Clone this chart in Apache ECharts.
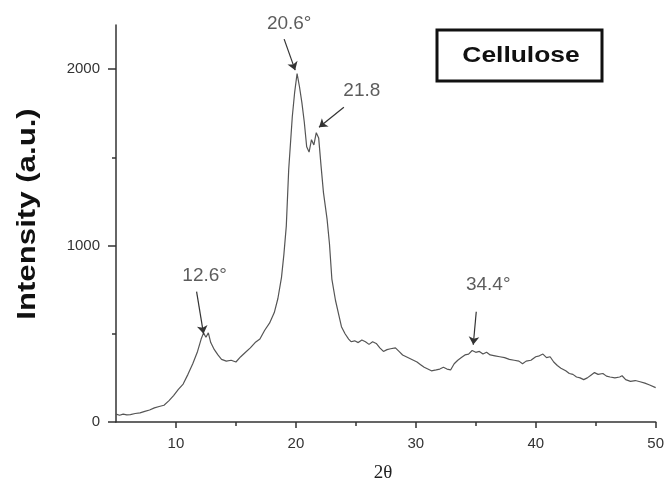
<!DOCTYPE html>
<html>
<head>
<meta charset="utf-8">
<script src="https://cdn.jsdelivr.net/npm/echarts@6/dist/echarts.min.js"></script>
<style>
  html, body { margin: 0; padding: 0; background: #fff; }
  #xrd { width: 667px; height: 484px; }
</style>
</head>
<body>
<div id="xrd"></div>
<script>
// XRD pattern
var twoTheta = [5.0, 5.3, 5.6, 5.9, 6.2, 6.6, 7.0, 7.4, 7.8, 8.2, 8.6, 9.0, 9.4, 9.8, 10.2, 10.6, 11.0, 11.4, 11.8, 12.1,
    12.3, 12.5, 12.7, 12.9, 13.2, 13.5, 13.8, 14.2, 14.6, 15.0, 15.4, 15.8, 16.2, 16.6, 17.0, 17.4, 17.8, 18.2, 18.5, 18.8,
    19.0, 19.2, 19.4, 19.7, 19.9, 20.1, 20.3, 20.5, 20.7, 20.9, 21.1, 21.3, 21.5, 21.7, 21.9, 22.1, 22.3, 22.6, 22.8, 23.0,
    23.3, 23.6, 23.8, 24.1, 24.4, 24.6, 24.9, 25.2, 25.5, 25.8, 26.1, 26.4, 26.7, 27.0, 27.3, 27.6, 27.9, 28.3, 28.6, 28.9,
    29.2, 29.5, 29.8, 30.1, 30.4, 30.7, 31.0, 31.3, 31.7, 32.0, 32.3, 32.6, 32.9, 33.2, 33.5, 33.8, 34.1, 34.4, 34.7, 35.0,
    35.3, 35.6, 35.9, 36.2, 36.6, 37.0, 37.4, 37.8, 38.2, 38.6, 38.9, 39.2, 39.6, 40.0, 40.3, 40.6, 40.9, 41.2, 41.5, 41.8,
    42.1, 42.5, 42.8, 43.1, 43.4, 43.7, 44.0, 44.3, 44.6, 44.9, 45.2, 45.6, 45.9, 46.2, 46.6, 47.0, 47.2, 47.5, 47.9, 48.3,
    48.7, 49.1, 49.5, 50.0];
var intensity = [45, 38, 45, 40, 42, 48, 52, 60, 68, 80, 88, 95, 120, 150, 185, 215, 270, 330, 400, 470,
    505, 480, 505, 450, 410, 380, 355, 345, 350, 340, 370, 395, 420, 450, 470, 520, 560, 620, 700, 820,
    950, 1110, 1430, 1730, 1870, 1975, 1900, 1810, 1700, 1560, 1530, 1600, 1570, 1640, 1610, 1450, 1300, 1150, 1010, 810,
    690, 600, 540, 500, 470, 455, 460, 450, 465, 455, 440, 455, 445, 420, 400, 410, 415, 420, 400, 380,
    370, 360, 350, 340, 325, 310, 300, 290, 295, 300, 310, 300, 295, 330, 350, 365, 380, 385, 405, 395,
    400, 385, 395, 380, 375, 370, 365, 355, 350, 345, 330, 345, 350, 370, 375, 385, 365, 370, 340, 320,
    305, 290, 275, 270, 255, 250, 240, 250, 265, 280, 270, 275, 260, 255, 250, 255, 262, 240, 230, 235,
    228, 220, 210, 195];

// peak annotations: label, text position, arrow start, arrow tip (data units)
var peakLabels = ['20.6°', '21.8', '12.6°', '34.4°'];
var labelPos = [[19.44, 2256], [25.5, 1875], [12.39, 830], [36.04, 778]];
var arrowFrom = [[19.02, 2170], [24.0, 1784], [11.72, 739], [35.04, 625]];
var arrowTo = [[19.94, 1994], [21.93, 1670], [12.3, 500], [34.79, 438]];

var xMajor = [10, 20, 30, 40, 50];
var xMinor = [15, 25, 35, 45];
var yMajor = [0, 1000, 2000];
var yMinor = [500, 1500];

var curve = twoTheta.map(function (t, i) { return [t, intensity[i]]; });
var arrows = arrowFrom.map(function (p, i) { return [{ coord: p }, { coord: arrowTo[i] }]; });
var labels = labelPos.map(function (p, i) { return { value: p, name: peakLabels[i] }; });

var axisColor = '#333';
var plain = function (v) { return String(v); };
var myChart = echarts.init(document.getElementById('xrd'));
var option = {
    animation: false,
    grid: { left: 116, right: 9, top: 25, bottom: 62 },
    xAxis: [{
        type: 'value',
        min: 5,
        max: 50,
        interval: 5,
        axisLine: { lineStyle: { color: axisColor, width: 1.5 } },
        axisTick: { customValues: xMajor, length: 6, lineStyle: { color: axisColor, width: 1.5 } },
        axisLabel: { customValues: xMajor, formatter: plain, margin: 14, color: '#333', fontSize: 15, fontFamily: 'Liberation Sans' },
        splitLine: { show: false }
    }, {
        type: 'value',
        min: 5,
        max: 50,
        interval: 5,
        position: 'bottom',
        axisLine: { show: false },
        axisTick: { customValues: xMinor, length: 4, lineStyle: { color: axisColor, width: 1.5 } },
        axisLabel: { show: false },
        splitLine: { show: false }
    }],
    yAxis: [{
        type: 'value',
        min: 0,
        max: 2250,
        interval: 500,
        axisLine: { show: true, lineStyle: { color: axisColor, width: 1.5 } },
        axisTick: { show: true, customValues: yMajor, length: 8, lineStyle: { color: axisColor, width: 1.5 } },
        axisLabel: { customValues: yMajor, formatter: plain, margin: 16, color: '#333', fontSize: 15, fontFamily: 'Liberation Sans' },
        splitLine: { show: false }
    }, {
        type: 'value',
        min: 0,
        max: 2250,
        interval: 500,
        position: 'left',
        axisLine: { show: false },
        axisTick: { show: true, customValues: yMinor, length: 4, lineStyle: { color: axisColor, width: 1.5 } },
        axisLabel: { show: false },
        splitLine: { show: false }
    }],
    series: [{
        name: 'Cellulose',
        type: 'line',
        data: curve,
        showSymbol: false,
        symbol: 'none',
        lineStyle: { color: '#555', width: 1.2 },
        markLine: {
            silent: true,
            animation: false,
            symbol: ['none', 'arrow'],
            symbolSize: 8,
            label: { show: false },
            lineStyle: { color: '#333', width: 1.2, type: 'solid' },
            data: arrows
        }
    }, {
        type: 'scatter',
        data: labels,
        symbolSize: 0,
        clip: false,
        silent: true,
        label: {
            show: true,
            position: 'inside',
            formatter: '{b}',
            color: '#333',
            fontSize: 19,
            fontFamily: 'Liberation Sans'
        }
    }],
    graphic: [{
        type: 'rect',
        shape: { x: 437, y: 30, width: 165, height: 51 },
        style: { fill: '#fff', stroke: '#111', lineWidth: 3 }
    }, {
        type: 'text',
        x: 521,
        y: 56,
        scaleX: 1.2,
        style: {
            text: 'Cellulose',
            font: 'bold 22px "Liberation Sans"',
            fill: '#111',
            align: 'center',
            verticalAlign: 'middle'
        }
    }, {
        type: 'text',
        x: 28,
        y: 214,
        rotation: Math.PI / 2,
        scaleX: 1.2,
        style: {
            text: 'Intensity (a.u.)',
            font: 'bold 26px "Liberation Sans"',
            fill: '#111',
            align: 'center',
            verticalAlign: 'middle'
        }
    }, {
        type: 'text',
        x: 383,
        y: 473,
        style: {
            text: '2θ',
            font: '19px "Liberation Serif"',
            fill: '#222',
            align: 'center',
            verticalAlign: 'middle'
        }
    }]
};
myChart.setOption(option);
</script>
</body>
</html>
